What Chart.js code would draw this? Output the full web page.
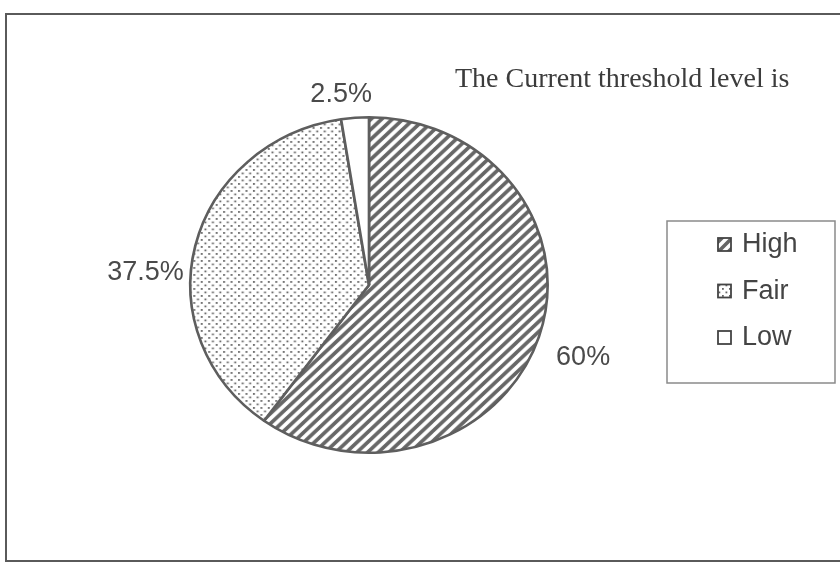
<!DOCTYPE html>
<html>
<head>
<meta charset="utf-8">
<script src="https://cdn.jsdelivr.net/npm/chart.js@4.4.1/dist/chart.umd.min.js"></script>
<style>
  html, body { margin: 0; padding: 0; background: #fff; }
  #wrap { width: 840px; height: 564px; }
</style>
</head>
<body>
<div id="wrap"><canvas id="thresholdChart" width="840" height="564"></canvas></div>
<script>
const categories = ['High', 'Fair', 'Low'];
const shares = [60, 37.5, 2.5];
const shareLabels = ['60%', '37.5%', '2.5%'];
const chartTitle = 'The Current threshold level is';

// pie is a slightly wide ellipse, not a circle
const STRETCH_X = 1.065;
const INK = '#5a5a5a';

function stripePattern(ctx) {
    const s = 10;
    const c = document.createElement('canvas');
    c.width = s; c.height = s;
    const g = c.getContext('2d');
    g.fillStyle = '#fff';
    g.fillRect(0, 0, s, s);
    g.strokeStyle = '#666';
    g.lineWidth = 3.6;
    g.beginPath();
    g.moveTo(-1, s + 1); g.lineTo(s + 1, -1);
    g.moveTo(-2, 2); g.lineTo(2, -2);
    g.moveTo(s - 2, s + 2); g.lineTo(s + 2, s - 2);
    g.stroke();
    return ctx.createPattern(c, 'repeat');
}

function dotPattern(ctx) {
    const s = 7;
    const c = document.createElement('canvas');
    c.width = s; c.height = s;
    const g = c.getContext('2d');
    g.fillStyle = '#fff';
    g.fillRect(0, 0, s, s);
    g.fillStyle = '#666';
    g.fillRect(1, 1, 1.8, 1.8);
    g.fillRect(4.5, 4.5, 1.8, 1.8);
    return ctx.createPattern(c, 'repeat');
}

const canvas = document.getElementById('thresholdChart');
const ctx = canvas.getContext('2d');
const fills = [stripePattern(ctx), dotPattern(ctx), '#ffffff'];

// Squash/stretch the arcs around the pie centre
const ellipsePlugin = {
    id: 'ellipse',
    beforeDatasetsDraw(chart) {
        const arc = chart.getDatasetMeta(0).data[0];
        const c = chart.ctx;
        c.save();
        c.translate(arc.x, arc.y);
        c.scale(STRETCH_X, 1);
        c.translate(-arc.x, -arc.y);
    },
    afterDatasetsDraw(chart) {
        chart.ctx.restore();
    }
};

// Percent labels outside each slice
const sliceLabels = {
    id: 'sliceLabels',
    afterDatasetsDraw(chart) {
        const c = chart.ctx;
        const nudges = [[7, 18], [-1, 29], [-13, 0]];
        c.save();
        c.font = '27px "Liberation Sans", Arial, sans-serif';
        c.fillStyle = '#4a4a4a';
        chart.getDatasetMeta(0).data.forEach((arc, i) => {
            const mid = (arc.startAngle + arc.endAngle) / 2;
            const r = arc.outerRadius * 1.06;
            const x = arc.x + Math.cos(mid) * r * STRETCH_X + nudges[i][0];
            const y = arc.y + Math.sin(mid) * r + nudges[i][1];
            const cx = Math.cos(mid);
            c.textAlign = Math.abs(cx) < 0.2 ? 'center' : (cx > 0 ? 'left' : 'right');
            c.textBaseline = Math.abs(cx) < 0.2 ? 'bottom' : 'middle';
            c.fillText(shareLabels[i], x, y);
        });
        c.restore();
    }
};

// Frame, title and boxed legend
const decor = {
    id: 'decor',
    afterDraw(chart) {
        const c = chart.ctx;
        c.save();
        c.strokeStyle = INK;
        c.lineWidth = 2;
        c.beginPath();
        c.moveTo(842, 14); c.lineTo(6, 14); c.lineTo(6, 561); c.lineTo(842, 561);
        c.stroke();

        c.font = '28px "Liberation Serif", "Times New Roman", serif';
        c.fillStyle = '#3c3c3c';
        c.textAlign = 'left';
        c.textBaseline = 'middle';
        c.fillText(chartTitle, 455, 80);

        c.lineWidth = 1.5;
        c.strokeStyle = '#8a8a8a';
        c.strokeRect(667, 221, 168, 162);

        c.font = '27px "Liberation Sans", Arial, sans-serif';
        categories.forEach((name, i) => {
            const y = 244 + i * 46.5;
            c.fillStyle = fills[i];
            c.fillRect(718, y - 6, 13, 13);
            c.strokeStyle = '#444';
            c.lineWidth = 1.8;
            c.strokeRect(718, y - 6, 13, 13);
            c.fillStyle = '#444';
            c.fillText(name, 742, y + 1);
        });
        c.restore();
    }
};

new Chart(ctx, {
    type: 'pie',
    data: {
        labels: categories,
        datasets: [{
            data: shares,
            backgroundColor: fills,
            borderColor: '#5e5e5e',
            borderWidth: 2.5
        }]
    },
    options: {
        responsive: false,
        animation: false,
        events: [],
        rotation: 0,
        layout: { padding: { left: 169, right: 271, top: 116, bottom: 110 } },
        plugins: {
            legend: { display: false },
            tooltip: { enabled: false }
        }
    },
    plugins: [ellipsePlugin, sliceLabels, decor]
});
</script>
</body>
</html>
